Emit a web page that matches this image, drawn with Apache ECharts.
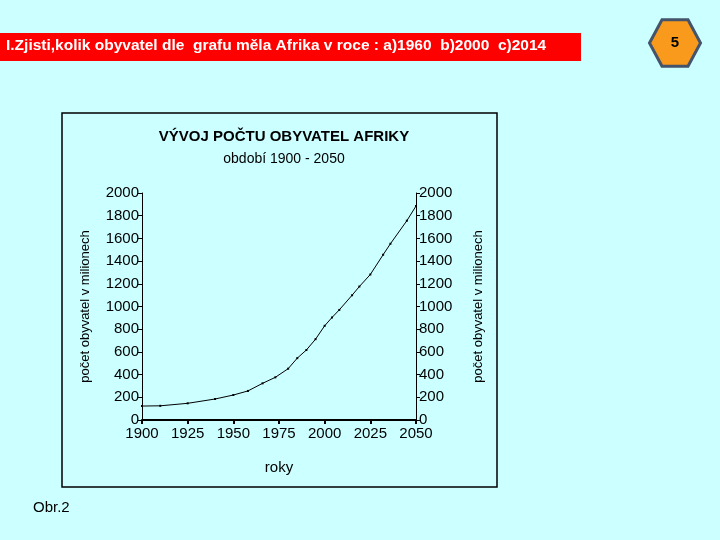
<!DOCTYPE html>
<html>
<head>
<meta charset="utf-8">
<script src="https://cdn.jsdelivr.net/npm/echarts@6/dist/echarts.min.js"></script>
<style>
  html, body { margin: 0; padding: 0; background: #ccffff; }
  #main { width: 720px; height: 540px; }
</style>
</head>
<body>
<div id="main"></div>
<script>
// data (population of Africa, millions)
const years = [1900, 1910, 1925, 1940, 1950, 1958, 1966, 1973, 1980, 1985, 1990, 1995, 2000, 2004, 2008, 2015, 2019, 2025, 2032, 2036, 2045, 2050];
const population = [123, 125, 147, 185, 220, 256, 323, 376, 452, 545, 617, 712, 830, 903, 970, 1099, 1176, 1282, 1456, 1553, 1756, 1885];
const yearTicks = [1900, 1925, 1950, 1975, 2000, 2025, 2050];

const font = '"Liberation Sans", Arial, sans-serif';
const chart = echarts.init(document.getElementById('main'));

const axisY = function (pos, gap) {
  return {
    type: 'value',
    position: pos,
    min: 0,
    max: 2000,
    interval: 200,
    name: 'počet obyvatel v milionech',
    nameLocation: 'middle',
    nameGap: gap,
    nameTextStyle: { color: '#000', fontSize: 13, fontFamily: font },
    axisLine: { show: true, lineStyle: { color: '#000', width: 1 } },
    axisTick: { show: true, length: 4, lineStyle: { color: '#000' } },
    axisLabel: {
      color: '#000', fontSize: 15, fontFamily: font, margin: 3,
      formatter: function (v) { return String(v); }
    },
    splitLine: { show: false }
  };
};

chart.setOption({
  backgroundColor: '#ccffff',
  animation: false,
  title: {
    text: 'VÝVOJ POČTU OBYVATEL AFRIKY',
    subtext: 'období 1900 - 2050',
    left: 279,
    textAlign: 'center',
    top: 124,
    itemGap: 8,
    textStyle: { color: '#000', fontSize: 15, fontWeight: 'bold', fontFamily: font },
    subtextStyle: { color: '#000', fontSize: 14, fontFamily: font }
  },
  grid: { left: 142, right: 304, top: 193, bottom: 120 },
  xAxis: {
    type: 'value',
    min: 1900,
    max: 2050,
    interval: 25,
    name: 'roky',
    nameLocation: 'middle',
    nameGap: 40,
    nameTextStyle: { color: '#000', fontSize: 15, fontFamily: font },
    axisLine: { lineStyle: { color: '#000', width: 2 } },
    axisTick: { length: 4, lineStyle: { color: '#000', width: 2 } },
    axisLabel: {
      color: '#000', fontSize: 15, fontFamily: font, margin: 6,
      formatter: function (v) { return yearTicks.indexOf(v) >= 0 ? String(v) : ''; }
    },
    splitLine: { show: false }
  },
  yAxis: [axisY('left', 50), axisY('right', 56)],
  series: [{
    type: 'line',
    data: years.map(function (y, i) { return [y, population[i]]; }),
    symbol: 'rect',
    symbolSize: 2,
    itemStyle: { color: '#000' },
    lineStyle: { color: '#000', width: 1 }
  }],
  graphic: [
    { type: 'rect', shape: { x: 62, y: 113, width: 435, height: 374 }, style: { fill: 'transparent', stroke: '#000', lineWidth: 1.5 }, z: -1 },
    { type: 'rect', shape: { x: 0, y: 33, width: 581, height: 28 }, style: { fill: '#ff0000' } },
    { type: 'text', left: 6, top: 38, style: { text: 'I.Zjisti,kolik obyvatel dle  grafu měla Afrika v roce : a)1960  b)2000  c)2014', fill: '#fff', font: 'bold 15.5px ' + font } },
    { type: 'polygon', shape: { points: [[649.5, 43], [662, 19.7], [688, 19.7], [700.5, 43], [688, 66.3], [662, 66.3]] }, style: { fill: '#f99a1c', stroke: '#44546a', lineWidth: 3 } },
    { type: 'text', x: 675, y: 43, style: { text: '5', fill: '#000', font: 'bold 15px ' + font, align: 'center', verticalAlign: 'middle' } },
    { type: 'text', left: 33, top: 500, style: { text: 'Obr.2', fill: '#000', font: '15px ' + font } }
  ]
});
</script>
</body>
</html>
